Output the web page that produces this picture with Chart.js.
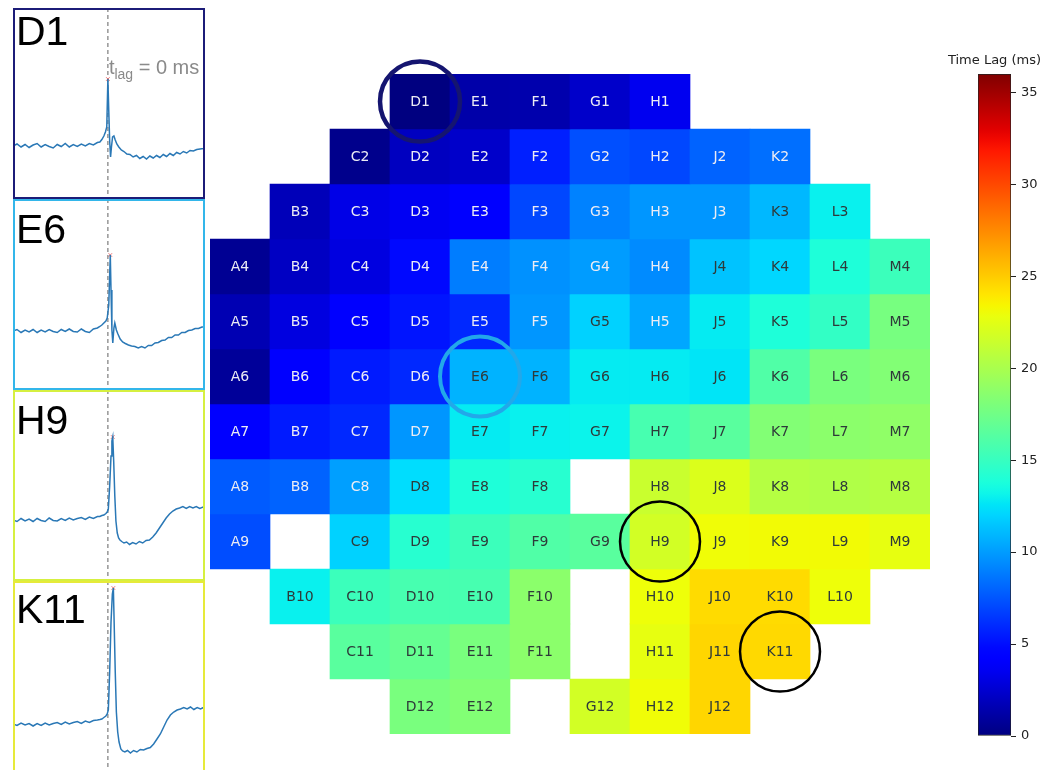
<!DOCTYPE html>
<html>
<head>
<meta charset="utf-8">
<title>Time lag map</title>
<script src="https://cdn.jsdelivr.net/npm/chart.js@4.4.1/dist/chart.umd.min.js"></script>
<style>
  html, body { margin: 0; padding: 0; background: #fff; width: 1064px; height: 770px; overflow: hidden; }
  canvas { position: absolute; }
</style>
</head>
<body>
<canvas id="trD1" width="192" height="191" style="left:13px;top:8px"></canvas>
<canvas id="trE6" width="192" height="191" style="left:13px;top:199px"></canvas>
<canvas id="trH9" width="192" height="191" style="left:13px;top:390px"></canvas>
<canvas id="trK11" width="192" height="191" style="left:13px;top:581px"></canvas>
<canvas id="grid" width="740" height="730" style="left:205px;top:40px"></canvas>
<canvas id="cbar" width="134" height="730" style="left:930px;top:40px"></canvas>
<script>
// ---- electrode grid: columns (no "I") and rows ----
const columns = ['A', 'B', 'C', 'D', 'E', 'F', 'G', 'H', 'J', 'K', 'L', 'M'];
const rowNumbers = [1, 2, 3, 4, 5, 6, 7, 8, 9, 10, 11, 12];

// time lag per electrode (ms), one array per row, null = no electrode
const row1  = [null, null, null, 0.0, 1.3, 1.4, 2.3, 3.5, null, null, null, null];
const row2  = [null, null, 0.4, 2.0, 2.3, 5.6, 7.3, 7.0, 8.0, 8.4, null, null];
const row3  = [null, 1.8, 3.2, 3.6, 4.2, 7.0, 9.1, 9.8, 9.8, 11.0, 13.0, null];
const row4  = [0.6, 2.1, 3.0, 4.8, 8.9, 9.6, 10.0, 9.4, 11.4, 12.1, 13.9, 15.2];
const row5  = [1.6, 3.0, 4.5, 5.2, 5.9, 9.8, 11.9, 10.4, 12.8, 13.9, 14.8, 17.8];
const row6  = [0.8, 4.4, 5.4, 5.9, 10.8, 10.8, 12.8, 12.8, 12.6, 16.1, 17.9, 18.3];
const row7  = [4.3, 5.4, 5.9, 9.8, 12.8, 13.0, 13.1, 15.7, 16.5, 18.3, 18.7, 18.9];
const row8  = [7.7, 8.0, 10.1, 12.3, 13.9, 14.3, null, 21.4, 22.2, 20.5, 20.3, 20.5];
const row9  = [7.2, null, 11.9, 14.3, 15.2, 16.1, 16.5, 21.8, 23.1, 23.2, 23.2, 22.7];
const row10 = [null, 13.0, 15.2, 15.7, 15.7, 18.7, null, 23.0, 24.4, 24.4, 23.0, null];
const row11 = [null, null, 16.5, 17.0, 17.9, 18.7, null, 22.7, 24.6, 24.5, null, null];
const row12 = [null, null, null, 17.9, 18.3, null, 21.8, 23.1, 24.6, null, null, null];
const lagRows = [row1, row2, row3, row4, row5, row6, row7, row8, row9, row10, row11, row12];

// colour scale range and colour bar ticks (ms)
const lagMax = 36;
const colorbarTicks = [0, 5, 10, 15, 20, 25, 30, 35];

// electrodes whose recordings are shown on the left
const tracedElectrodes = ['D1', 'E6', 'H9', 'K11'];

// recorded traces: time (ms, relative to D1 peak) and amplitude (a.u.)
const d1Time = [-425,-407,-389,-371,-353,-335,-317,-299,-281,-263,-245,-227,-209,-191,-173,-155,-137,-119,-101,-83,-65,-47,-36,-27,-18,-11,-5,0,4,8,12,16,21,27,33,40,49,60,72,85,99,113,128,143,158,173,188,203,218,233,248,263,278,293,308,323,338,353,368,383,398,413,428,435];
const d1Amp  = [53,55,52,54.5,51.5,54,55.5,52,54.5,52.5,51,54.5,52.5,55.5,52,54.5,52.5,55,53,55.5,54,56.5,57,59.5,63,67,72,120,88,58,42,52,62,63,59,55,52,49,47.5,45,44.5,42,43.5,40.5,42.5,40,43,41,43.5,41.5,44.5,42.5,45.5,43.5,46.5,45,47.5,46,48.5,48,49.5,50,50.5,51];

const e6Time = [-425,-407,-389,-371,-353,-335,-317,-299,-281,-263,-245,-227,-209,-191,-173,-155,-137,-119,-101,-83,-65,-47,-36,-27,-18,-9,-3,4,8,10.8,14,18,22,27,31,38,45,55,66,78,92,106,121,136,151,166,181,196,211,226,241,256,271,286,301,316,331,346,361,376,391,406,421,435];
const e6Amp  = [59,60.5,57.5,60,58,60.5,57.5,60,58,60.5,58.5,57.5,60.5,58.5,61,58.5,58,61,58.5,57.5,61,62,63.5,65,67,69,72,85,115,135,100,60,47,62,67,60,56,51,48,46.5,45,44,43.5,42,43.5,42,44.5,44.5,47,47.5,49.5,50,52.5,52.5,55,55,57.5,57.5,59.5,60,61.5,61.5,63,63];

const h9Time = [-425,-407,-389,-371,-353,-335,-317,-299,-281,-263,-245,-227,-209,-191,-173,-155,-137,-119,-101,-83,-65,-47,-36,-27,-18,-9,-3,2,8,14,18,21.8,26,31,36,42,48,54,62,72,84,97,111,126,141,156,171,186,201,216,231,246,261,276,291,306,321,336,351,366,381,396,411,426,435];
const h9Amp  = [61,59.5,62.5,60,62,59.5,62.5,60.5,59.5,63,60.5,60,62.5,60.5,63,61,62.5,63.5,61.5,64,62.5,64.5,64.5,65.5,66,67.5,69,72,95,125,140,144,120,85,60,48,43,41,39.5,38,39,36.5,38.5,37,39.5,38,40.5,41,44,48,53,58,63,67,70,72,73,74.5,72.5,74.5,73,74.5,72.5,74,72.5];

const k11Time = [-425,-407,-389,-371,-353,-335,-317,-299,-281,-263,-245,-227,-209,-191,-173,-155,-137,-119,-101,-83,-65,-47,-36,-27,-18,-9,-3,2,8,14,20,24.5,28,33,38,44,50,58,66,76,88,101,115,130,145,160,175,190,205,220,235,250,265,280,295,310,325,340,355,370,385,400,415,428,435];
const k11Amp  = [48,46.5,49,47,48.5,46,48.5,46.5,49,47,48.5,49.5,47.5,50,48,49.5,50.5,48.5,51,49.5,51.5,52,52.5,53,54.5,56,58,62,100,150,178,184,150,100,60,40,30,23,21,20,21.5,19,21.5,20,22.5,22,23.5,24.5,28,33,38,45,52,57,60,62,63,64.5,63,65,62.5,64.5,63,64.5,62.5];

// ---- styling ----
const panelBorderColors = ['#1c1c78', '#33b6ea', '#d6f040', '#e6ea3a'];
const ringColors = ['#151570', '#22a8ea', '#000000', '#000000'];
const ringWidths = [4.5, 4, 2.5, 2.5];
const labelOffsets = [37, 44, 44, 42];

// matplotlib "jet" colour map
function interp(xs, ys, t) {
  for (let i = 1; i < xs.length; i++) {
    if (t <= xs[i]) {
      const f = (t - xs[i - 1]) / (xs[i] - xs[i - 1]);
      return ys[i - 1] + f * (ys[i] - ys[i - 1]);
    }
  }
  return ys[ys.length - 1];
}
function jet(t) {
  t = Math.max(0, Math.min(1, t));
  const r = interp([0, 0.35, 0.66, 0.89, 1], [0, 0, 1, 1, 0.5], t);
  const g = interp([0, 0.125, 0.375, 0.64, 0.91, 1], [0, 0, 1, 1, 0, 0], t);
  const b = interp([0, 0.11, 0.34, 0.65, 1], [0.5, 1, 1, 0, 0], t);
  return `rgb(${Math.round(r * 255)},${Math.round(g * 255)},${Math.round(b * 255)})`;
}

const common = {
  responsive: false,
  animation: false,
  events: [],
  plugins: { legend: { display: false }, tooltip: { enabled: false } }
};

// ---- heat map of electrode time lags ----
const gridDecor = {
  id: 'gridDecor',
  afterDatasetsDraw(chart) {
    const { ctx, scales: { x, y } } = chart;
    ctx.save();
    ctx.font = '14px "DejaVu Sans"';
    ctx.textAlign = 'center';
    ctx.textBaseline = 'middle';
    lagRows.forEach((row, r) => row.forEach((v, c) => {
      if (v === null) return;
      ctx.fillStyle = v < 10.6 ? '#ececf4' : '#2e3a3a';
      ctx.fillText(columns[c] + rowNumbers[r], x.getPixelForValue(c), y.getPixelForValue(rowNumbers[r]) + 1);
    }));
    tracedElectrodes.forEach((name, k) => {
      const c = columns.indexOf(name[0]);
      const r = Number(name.slice(1));
      ctx.beginPath();
      ctx.arc(x.getPixelForValue(c), y.getPixelForValue(r), 40, 0, Math.PI * 2);
      ctx.lineWidth = ringWidths[k];
      ctx.strokeStyle = ringColors[k];
      ctx.stroke();
    });
    ctx.restore();
  }
};

new Chart(document.getElementById('grid'), {
  type: 'bar',
  data: {
    labels: columns,
    datasets: lagRows.map((row, r) => ({
      data: row.map(v => v === null ? null : [rowNumbers[r] - 0.5, rowNumbers[r] + 0.5]),
      backgroundColor: row.map(v => v === null ? 'rgba(0,0,0,0)' : jet(v / lagMax)),
      borderWidth: 0,
      grouped: false,
      barPercentage: 1,
      categoryPercentage: 1
    }))
  },
  options: {
    ...common,
    layout: { autoPadding: false, padding: { left: 5, right: 15, top: 34, bottom: 36 } },
    scales: {
      x: { display: false },
      y: { display: false, min: 0.5, max: 12.5, reverse: true }
    }
  },
  plugins: [gridDecor]
});

// ---- colour bar ----
const cbarTitle = {
  id: 'cbarTitle',
  afterDraw(chart) {
    const { ctx, chartArea } = chart;
    ctx.save();
    ctx.font = '13px "DejaVu Sans"';
    ctx.fillStyle = '#222';
    ctx.textAlign = 'center';
    ctx.textBaseline = 'alphabetic';
    ctx.fillText('Time Lag (ms)', (chartArea.left + chartArea.right) / 2, chartArea.top - 10);
    ctx.restore();
  }
};

new Chart(document.getElementById('cbar'), {
  type: 'bar',
  data: {
    labels: [''],
    datasets: [{
      data: [[0, lagMax]],
      backgroundColor(c) {
        const chart = c.chart;
        if (!chart.chartArea) return '#000080';
        const ys = chart.scales.y;
        const g = chart.ctx.createLinearGradient(0, ys.getPixelForValue(0), 0, ys.getPixelForValue(lagMax));
        for (let i = 0; i <= 60; i++) g.addColorStop(i / 60, jet(i / 60));
        return g;
      },
      borderColor: '#222',
      borderWidth: 1,
      borderSkipped: false,
      barPercentage: 1,
      categoryPercentage: 1
    }]
  },
  options: {
    ...common,
    layout: { autoPadding: false, padding: { left: 48, right: 13, top: 34, bottom: 34 } },
    scales: {
      x: { display: false },
      y: {
        min: 0, max: lagMax, position: 'right',
        afterFit(s) { s.width = 40; },
        afterBuildTicks(s) { s.ticks = colorbarTicks.map(v => ({ value: v })); },
        ticks: { font: { family: 'DejaVu Sans', size: 13 }, color: '#222', padding: 5 },
        grid: { drawOnChartArea: false, drawTicks: true, tickLength: 5, color: '#222' },
        border: { display: false }
      }
    }
  },
  plugins: [cbarTitle]
});

// ---- recorded traces ----
const panelDecor = {
  id: 'panelDecor',
  beforeDatasetsDraw(chart, args, opts) {
    const { ctx, chartArea: a, scales: { x } } = chart;
    const px = x.getPixelForValue(0);
    ctx.save();
    ctx.strokeStyle = '#7c7c7c';
    ctx.lineWidth = 1.2;
    ctx.setLineDash([4, 3]);
    ctx.beginPath();
    ctx.moveTo(px, a.top);
    ctx.lineTo(px, a.bottom);
    ctx.stroke();
    ctx.restore();
  },
  afterDraw(chart, args, opts) {
    const { ctx, chartArea: a, scales: { x } } = chart;
    ctx.save();
    ctx.strokeStyle = opts.border;
    ctx.lineWidth = 2;
    ctx.strokeRect(a.left + 1, a.top + 1, a.right - a.left - 2, a.bottom - a.top - 2);
    ctx.fillStyle = '#000';
    ctx.font = '41px "Liberation Sans"';
    ctx.textBaseline = 'alphabetic';
    ctx.fillText(opts.name, a.left + 3, a.top + opts.offset);
    if (opts.showLag) {
      ctx.fillStyle = '#8a8a8a';
      let px = x.getPixelForValue(0) + 1;
      const base = a.top + 66;
      ctx.font = '20px "Liberation Sans"';
      ctx.fillText('t', px, base);
      px += ctx.measureText('t').width;
      ctx.font = '14px "Liberation Sans"';
      ctx.fillText('lag', px, base + 5);
      px += ctx.measureText('lag').width;
      ctx.font = '20px "Liberation Sans"';
      ctx.fillText(' = ' + opts.lag + ' ms', px, base);
    }
    ctx.restore();
  }
};

function lagOf(name) {
  const c = columns.indexOf(name[0]);
  const r = Number(name.slice(1));
  return lagRows[r - 1][c];
}

function makeTrace(id, k, time, amp) {
  const name = tracedElectrodes[k];
  const peak = Math.max(...amp);
  const peakTime = time[amp.indexOf(peak)];
  new Chart(document.getElementById(id), {
    type: 'scatter',
    data: {
      datasets: [
        {
          data: time.map((t, i) => ({ x: t, y: amp[i] })),
          showLine: true, borderColor: '#2a78b6', borderWidth: 1.5,
          pointRadius: 0, tension: 0
        },
        {
          data: [{ x: peakTime, y: peak }],
          pointStyle: 'crossRot', pointRadius: 2.5,
          borderColor: '#e87070', borderWidth: 1
        }
      ]
    },
    options: {
      ...common,
      layout: { autoPadding: false, padding: 0 },
      scales: {
        x: { type: 'linear', min: -425, max: 435, display: false },
        y: { min: 0, max: 191, display: false }
      },
      plugins: {
        ...common.plugins,
        panelDecor: {
          name, border: panelBorderColors[k], offset: labelOffsets[k],
          showLag: k === 0, lag: lagOf(name)
        }
      }
    },
    plugins: [panelDecor]
  });
}

makeTrace('trD1', 0, d1Time, d1Amp);
makeTrace('trE6', 1, e6Time, e6Amp);
makeTrace('trH9', 2, h9Time, h9Amp);
makeTrace('trK11', 3, k11Time, k11Amp);
</script>
</body>
</html>
